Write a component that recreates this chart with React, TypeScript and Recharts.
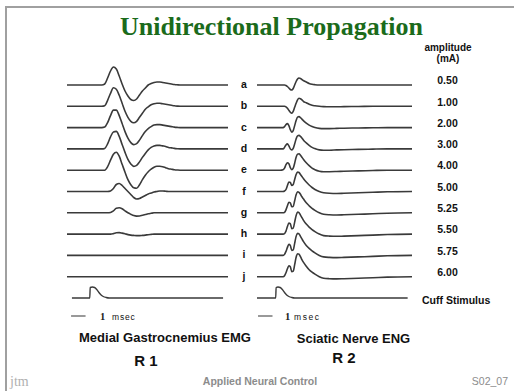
import React from 'react';
import { LineChart, Line, XAxis, YAxis, ReferenceLine } from 'recharts';

const SANS = '"Liberation Sans", Arial, sans-serif';
const SERIF = '"Liberation Serif", "Times New Roman", serif';
const TRACE = '#3a3a3a';

// vertical gap between stacked sweeps (same units as the traces)
const ROW_GAP = 21.3;

// --- Medial gastrocnemius EMG (R1), time in msec from sweep start
const T_EMG = [0, 2.2, 2.4, 2.6, 2.8, 3.0, 3.2, 3.4, 3.6, 3.8, 4.0, 4.2, 4.4, 4.6, 4.8, 5.0,
  5.2, 5.4, 5.6, 5.8, 6.0, 6.2, 6.4, 6.6, 6.8, 7.0, 7.2, 7.4, 7.6, 7.8, 8.0, 11.1];
const EMG_LABELS = ['a', 'b', 'c', 'd', 'e', 'f', 'g', 'h', 'i', 'j'];
const EMG_A = [0, 0, 0, 1, 7, 14, 18, 16, 9, 1, -6, -11, -14.5, -15.5, -14, -10, -6, -3, 0, 1.5, 2.5, 3, 3, 2.5, 2, 1.5, 1, 0.5, 0.2, 0, 0, 0];
const EMG_B = [0, 0, 0, 0.5, 6, 13, 18.5, 17, 11, 3, -5, -11, -15, -16.5, -15, -11, -7, -3, -0.5, 1.5, 2.5, 3, 3, 2.5, 2, 1.5, 1, 0.5, 0.2, 0, 0, 0];
const EMG_C = [0, 0, 0, 0.5, 5, 12, 17.5, 17.5, 12, 4, -4, -10.5, -15, -17, -16, -12.5, -8, -4, -1, 1, 2.5, 3, 3, 2.5, 2, 1.5, 1, 0.5, 0.2, 0, 0, 0];
const EMG_D = [0, 0, 0, 0.5, 5, 12, 17, 17.5, 12.5, 4.5, -3.5, -10.5, -15, -17.5, -16.5, -13, -8.5, -4.5, -1, 1.5, 3, 3.5, 3.5, 3, 2.5, 1.5, 1, 0.5, 0.2, 0, 0, 0];
const EMG_E = [0, 0, 0, 0, 3.5, 10, 16, 18, 14, 6, -2, -9.5, -14.5, -17.5, -18, -14.5, -9.5, -5, -1.5, 1, 3, 4, 4, 3.5, 2.5, 1.5, 1, 0.5, 0.2, 0, 0, 0];
const EMG_F = [0, 0, 0, 0, 0, 0.5, 3, 7, 8, 6, 3, 0, -3, -6, -7.5, -7, -5.5, -4, -2.5, -1.5, -0.5, 0, 0.5, 0.5, 0.3, 0, 0, 0, 0, 0, 0, 0];
const EMG_G = [0, 0, 0, 0, 0, 0.3, 2, 4.5, 5, 4, 2, 0, -1.5, -2.8, -3.3, -3.2, -2.5, -1.8, -1, -0.5, 0, 0, 0, 0, 0, 0, 0, 0, 0, 0, 0, 0];
const EMG_H = [0, 0, 0, 0, 0, 0, 0.5, 1.3, 1.5, 1, 0.3, -0.5, -1, -1.3, -1.5, -1.5, -1.3, -1, -0.6, -0.3, 0, 0, 0, 0, 0, 0, 0, 0, 0, 0, 0, 0];
const EMG_I = [0, 0, 0, 0, 0, 0, 0, 0, 0, 0, 0, 0, 0, 0, 0, 0, 0, 0, 0, 0, 0, 0, 0, 0, 0, 0, 0, 0, 0, 0, 0, 0];
const EMG_J = [0, 0, 0, 0, 0, 0, 0, 0, 0, 0, 0, 0, 0, 0, 0, 0, 0, 0, 0, 0, 0, 0, 0, 0, 0, 0, 0, 0, 0, 0, 0, 0];
const EMG_TRACES = [EMG_A, EMG_B, EMG_C, EMG_D, EMG_E, EMG_F, EMG_G, EMG_H, EMG_I, EMG_J];

// cuff stimulus under the EMG sweeps
const T_EMG_STIM = [0.34, 1.57, 1.6, 1.75, 1.9, 2.05, 2.2, 2.35, 2.5, 2.7, 2.9, 10.76];
const EMG_STIM = [0, 0, 10.5, 11, 10.5, 8.5, 5.5, 3, 1.5, 0.5, 0, 0];

// --- Sciatic nerve ENG (R2)
const T_ENG = [0, 1.6, 1.8, 1.9, 2.0, 2.1, 2.2, 2.3, 2.4, 2.5, 2.6, 2.7, 2.8, 2.9, 3.0, 3.1, 3.2,
  3.4, 3.6, 3.8, 4.0, 4.3, 4.6, 5.0, 5.5, 6.0, 7.0, 8.0, 9.0, 10.7];
const AMPLITUDES = ['0.50', '1.00', '2.00', '3.00', '4.00', '5.00', '5.25', '5.50', '5.75', '6.00'];
const ENG_050 = [0, 0, 0, 0, -0.5, -1.5, -3, -4.5, -5, -3.5, 0, 3.5, 6, 7, 6.5, 5.5, 4.5, 3, 1.5, 0.7, 0.3, 0, 0, 0, 0, 0, 0, 0, 0, 0];
const ENG_100 = [0, 0, 0, 0, -0.5, -2, -4, -6, -7, -5, -1, 3, 6.5, 8, 7.5, 6.5, 5, 3.5, 2, 1, 0.5, 0, -0.3, -0.5, -0.5, -0.3, -0.2, 0, 0, 0];
const ENG_200 = [0, 0, 0, 1, 3, 4, 2, -2, -4.5, -3, 2, 7, 10.5, 11, 10, 8.5, 7, 4.5, 2.5, 1, 0, -0.8, -1, -1, -0.8, -0.6, -0.4, -0.2, 0, 0];
const ENG_300 = [0, 0, 0, 1.5, 4, 5, 3, 0, -1, 0.5, 5, 10, 13, 13.5, 12.5, 11, 9, 6, 3.5, 1.5, 0.3, -1, -1.3, -1.3, -1, -0.8, -0.5, -0.2, 0, 0];
const ENG_400 = [0, 0, 0.5, 2, 5.5, 7.5, 6.5, 2.5, 0.5, 2, 7, 13, 16, 16.5, 15, 13, 11, 7.5, 4.5, 2, 0.5, -1, -1.5, -1.5, -1.3, -1, -0.7, -0.3, 0, 0];
const ENG_500 = [0, 0, 0, 0.5, 2, 6, 9.5, 9, 6, 7, 12, 17, 19.5, 19, 17, 15, 13, 9.5, 6.5, 4, 2, 0, -1.2, -1.8, -2, -1.8, -1.3, -0.8, -0.3, 0];
const ENG_525 = [0, 0, 0, 0.5, 3, 7, 10.5, 10, 6, 6.5, 12, 18, 21, 20.5, 18.5, 16, 14, 10, 7, 4.5, 2.5, 0, -1.5, -2, -2.2, -2, -1.5, -1, -0.4, 0];
const ENG_550 = [0, 0, 0, 0.5, 3, 7.5, 11, 10.5, 5.5, 6, 12, 18.5, 22, 21.5, 19, 16.5, 14, 10, 7, 4.5, 2.5, 0, -1.5, -2, -2.2, -2, -1.5, -1, -0.4, 0];
const ENG_575 = [0, 0, 0, 1, 4, 8, 11, 10, 5, 5.5, 12, 19, 22, 21.5, 19, 16.5, 14, 10, 7, 4.5, 2.5, 0, -1.5, -2, -2.2, -2, -1.5, -1, -0.4, 0];
const ENG_600 = [0, 0, 0, 1, 4, 8, 11, 10, 5, 5.5, 12, 19.5, 23, 22.5, 20, 17, 14.5, 10.5, 7, 4.5, 2.5, 0, -1.5, -2, -2.2, -2, -1.5, -1, -0.4, 0];
const ENG_TRACES = [ENG_050, ENG_100, ENG_200, ENG_300, ENG_400, ENG_500, ENG_525, ENG_550, ENG_575, ENG_600];

const T_ENG_STIM = [0, 1.29, 1.32, 1.45, 1.6, 1.75, 1.9, 2.05, 2.2, 2.4, 2.6, 10.4];
const ENG_STIM = [0, 0, 10.5, 11, 10.5, 8.5, 5.5, 3, 1.5, 0.5, 0, 0];

const toRows = (times: number[], values: number[], row: number) =>
  times.map((t, i) => ({ t, v: values[i] - row * ROW_GAP }));

const rowTicks = (n: number) => Array.from({ length: n }, (_, i) => -i * ROW_GAP);
const rowOf = (v: number) => Math.round(-v / ROW_GAP);

const LetterTick = ({ x, y, payload }: any) => (
  <text x={x + 16} y={y + 3} textAnchor="middle" fontSize={10.5} fontWeight="bold"
    fontFamily={SANS} fill="#111">
    {EMG_LABELS[rowOf(payload.value)]}
  </text>
);

const AmpTick = ({ x, y, payload }: any) => {
  const i = rowOf(payload.value);
  if (i >= AMPLITUDES.length) {
    return (
      <text x={x + 10} y={y + 5.5} fontSize={10.5} fontWeight="bold" fontFamily={SANS} fill="#111">
        Cuff Stimulus
      </text>
    );
  }
  return (
    <text x={x + 35.5} y={y - 0.8} textAnchor="middle" fontSize={10.5} fontWeight="bold"
      fontFamily={SANS} fill="#111">
      {AMPLITUDES[i]}
    </text>
  );
};

function SweepPanel({ traces, times, stimTimes, stim, xMax, axisWidth, plotWidth, tick, ticks, barStart }: any) {
  const stimRow = traces.length;
  return (
    <LineChart width={plotWidth + axisWidth} height={280} margin={{ top: 0, right: 0, bottom: 0, left: 0 }}>
      <XAxis type="number" dataKey="t" domain={[0, xMax]} hide allowDataOverflow />
      <YAxis type="number" orientation="right" domain={[-240, 40]} allowDataOverflow width={axisWidth}
        ticks={ticks} interval={0} axisLine={false} tickLine={false} tickSize={0} tickMargin={0} tick={tick} />
      {traces.map((vals: number[], i: number) => (
        <Line key={i} data={toRows(times, vals, i)} dataKey="v" name={`row${i}`} type="monotone"
          stroke={TRACE} strokeWidth={1.6} dot={false} isAnimationActive={false} />
      ))}
      <Line data={toRows(stimTimes, stim, stimRow)} dataKey="v" name="stim" type="monotone"
        stroke={TRACE} strokeWidth={1.4} dot={false} isAnimationActive={false} />
      {/* 1 msec scale bar */}
      <ReferenceLine segment={[{ x: barStart, y: -231 }, { x: barStart + 1, y: -231 }]}
        stroke="#555" strokeWidth={1.2} ifOverflow="visible" />
    </LineChart>
  );
}

export default function App() {
  return (
    <div style={{ position: 'absolute', left: 0, top: 0, width: 514, height: 391, background: '#fff', overflow: 'hidden' }}>
      <svg width={514} height={391} style={{ position: 'absolute', left: 0, top: 0 }}>
        <rect x={5} y={6} width={520} height={2} fill="#a0a0a0" />
        <rect x={5} y={6} width={2} height={400} fill="#a0a0a0" />
        <text x={271.5} y={35} textAnchor="middle" fontFamily={SERIF} fontWeight="bold" fontSize={26} fill="#1b6b1b">
          Unidirectional Propagation
        </text>
        <text x={448} y={51} textAnchor="middle" fontFamily={SANS} fontWeight="bold" fontSize={10} fill="#111">amplitude</text>
        <text x={448} y={62} textAnchor="middle" fontFamily={SANS} fontWeight="bold" fontSize={10} fill="#111">(mA)</text>

        <text x={100} y={319.5} fontFamily={SERIF} fontSize={10.5} fontWeight="bold" fill="#222">1</text>
        <text x={112} y={319.5} fontFamily={SANS} fontSize={8.5} letterSpacing={0.8} fill="#111">msec</text>
        <text x={285} y={319.5} fontFamily={SERIF} fontSize={10.5} fontWeight="bold" fill="#222">1</text>
        <text x={294} y={319.5} fontFamily={SANS} fontSize={8.5} letterSpacing={1.6} fill="#111">msec</text>

        <text x={165} y={342} textAnchor="middle" fontFamily={SANS} fontWeight="bold" fontSize={13} fill="#111">
          Medial Gastrocnemius EMG
        </text>
        <text x={353.5} y={343} textAnchor="middle" fontFamily={SANS} fontWeight="bold" fontSize={13} fill="#111">
          Sciatic Nerve ENG
        </text>
        <text x={146} y={366} textAnchor="middle" fontFamily={SANS} fontWeight="bold" fontSize={15} fill="#111">R 1</text>
        <text x={344} y={363} textAnchor="middle" fontFamily={SANS} fontWeight="bold" fontSize={15} fill="#111">R 2</text>

        <text x={10} y={386} fontFamily={SERIF} fontSize={14} fill="#b0b0b0">jtm</text>
        <text x={260} y={384.5} textAnchor="middle" fontFamily={SANS} fontWeight="bold" fontSize={10.5} fill="#8c8c8c">
          Applied Neural Control
        </text>
        <text x={508} y={384.5} textAnchor="end" fontFamily={SANS} fontSize={10.5} fill="#8c8c8c">S02_07</text>
      </svg>

      <div style={{ position: 'absolute', left: 67, top: 45 }}>
        <SweepPanel traces={EMG_TRACES} times={T_EMG} stimTimes={T_EMG_STIM} stim={EMG_STIM}
          xMax={11.1} plotWidth={161} axisWidth={40} tick={LetterTick}
          ticks={rowTicks(EMG_TRACES.length)} barStart={0.28} />
      </div>
      <div style={{ position: 'absolute', left: 257, top: 45 }}>
        <SweepPanel traces={ENG_TRACES} times={T_ENG} stimTimes={T_ENG_STIM} stim={ENG_STIM}
          xMax={10.7} plotWidth={155} axisWidth={100} tick={AmpTick}
          ticks={rowTicks(ENG_TRACES.length + 1)} barStart={0.07} />
      </div>
    </div>
  );
}
